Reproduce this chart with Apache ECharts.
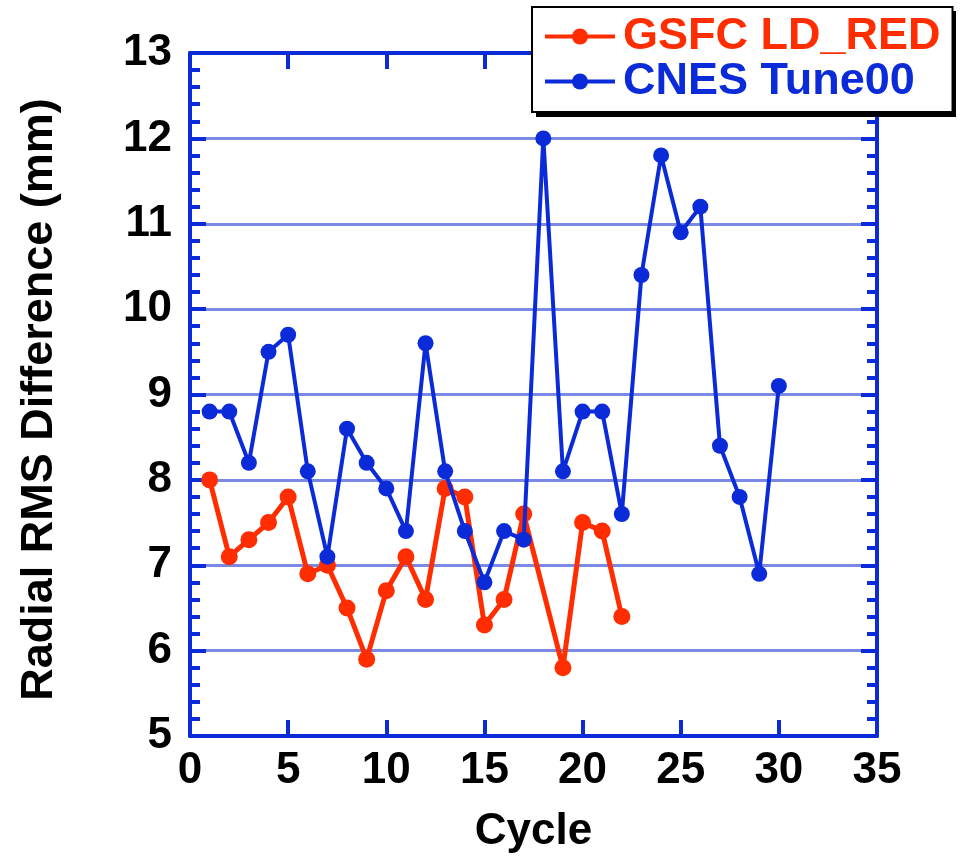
<!DOCTYPE html>
<html>
<head>
<meta charset="utf-8">
<script src="https://cdn.jsdelivr.net/npm/echarts@6/dist/echarts.min.js"></script>
<style>
  html, body { margin: 0; padding: 0; background: #ffffff; }
  #chart { width: 965px; height: 859px; }
</style>
</head>
<body>
<div id="chart"></div>
<script>
// Radial RMS difference per cycle for two orbit solutions
const cycles = [1, 2, 3, 4, 5, 6, 7, 8, 9, 10, 11, 12, 13, 14, 15,
                16, 17, 18, 19, 20, 21, 22, 23, 24, 25, 26, 27, 28, 29, 30];
// GSFC LD_RED has no value for cycle 18 and stops after cycle 22
const gsfcLdRed = [8.0, 7.1, 7.3, 7.5, 7.8, 6.9, 7.0, 6.5, 5.9, 6.7, 7.1, 6.6, 7.9, 7.8, 6.3,
                   6.6, 7.6, null, 5.8, 7.5, 7.4, 6.4];
const cnesTune00 = [8.8, 8.8, 8.2, 9.5, 9.7, 8.1, 7.1, 8.6, 8.2, 7.9, 7.4, 9.6, 8.1, 7.4, 6.8,
                    7.4, 7.3, 12.0, 8.1, 8.8, 8.8, 7.6, 10.4, 11.8, 10.9, 11.2, 8.4, 7.8, 6.9, 9.1];
const xTicks = { min: 0, max: 35, step: 5 };
const yTicks = { min: 5, max: 13, step: 1 };
const seriesNames = ['GSFC LD_RED', 'CNES Tune00'];

const RED = '#ff2d00';
const BLUE = '#0b2bd9';
const GRID_BLUE = '#7a89e6';
const FONT = '"Liberation Sans", Arial, Helvetica, sans-serif';

function pairs(values) {
  const out = [];
  values.forEach((v, i) => { if (v !== null) out.push([cycles[i], v]); });
  return out;
}

const axisLine = { show: true, onZero: false, lineStyle: { color: BLUE, width: 4 } };
const majorTick = { show: true, inside: true, length: 16, lineStyle: { color: BLUE, width: 4 } };
const minorTick = { show: true, splitNumber: 5, length: 10, lineStyle: { color: BLUE, width: 4 } };

// legend box geometry (drop shadow is drawn as a separate rect behind it)
const LEG = { left: 532, top: 7, width: 420, height: 106, shadow: 4 };

const chart = echarts.init(document.getElementById('chart'), null, { renderer: 'canvas' });
chart.setOption({
  animation: false,
  backgroundColor: '#ffffff',
  grid: { left: 190, right: 88, top: 53, bottom: 121, containLabel: false },
  graphic: [{
    type: 'rect', z: 3, silent: true,
    shape: { x: LEG.left + LEG.shadow, y: LEG.top + LEG.shadow, width: LEG.width, height: LEG.height },
    style: { fill: '#000000' }
  }],
  legend: {
    left: LEG.left, top: LEG.top,
    orient: 'vertical',
    padding: [7, 12, 8, 11],
    itemGap: 0,
    itemWidth: 70, itemHeight: 20,
    backgroundColor: '#ffffff',
    borderColor: '#000000', borderWidth: 2, borderRadius: 0,
    z: 5,
    lineStyle: { width: 4 },
    data: [
      { name: seriesNames[0], textStyle: { color: RED } },
      { name: seriesNames[1], textStyle: { color: BLUE } }
    ],
    textStyle: { fontFamily: FONT, fontWeight: 'bold', fontSize: 45, lineHeight: 45, padding: [0, 0, 0, 3] }
  },
  xAxis: [
    {
      type: 'value', position: 'bottom',
      min: xTicks.min, max: xTicks.max, interval: xTicks.step,
      name: 'Cycle', nameLocation: 'middle', nameGap: 74,
      nameTextStyle: { fontFamily: FONT, fontWeight: 'bold', fontSize: 44, color: '#000' },
      axisLine: axisLine,
      axisTick: majorTick,
      axisLabel: { fontFamily: FONT, fontWeight: 'bold', fontSize: 44, color: '#000', margin: 13 },
      splitLine: { show: false }
    },
    {
      type: 'value', position: 'top',
      min: xTicks.min, max: xTicks.max, interval: xTicks.step,
      axisLine: axisLine,
      axisTick: majorTick,
      axisLabel: { show: false },
      splitLine: { show: false }
    }
  ],
  yAxis: [
    {
      type: 'value', position: 'left',
      min: yTicks.min, max: yTicks.max, interval: yTicks.step,
      name: 'Radial RMS Difference (mm)', nameLocation: 'middle', nameGap: 128,
      nameRotate: 90,
      nameTextStyle: { fontFamily: FONT, fontWeight: 'bold', fontSize: 45, color: '#000', padding: [0, 10, 0, 0] },
      axisLine: axisLine,
      axisTick: majorTick,
      minorTick: minorTick,
      axisLabel: { fontFamily: FONT, fontWeight: 'bold', fontSize: 44, color: '#000', margin: 18,
                   padding: [0, 0, 16, 0] },
      splitLine: { show: true, lineStyle: { color: GRID_BLUE, width: 3 } }
    },
    {
      type: 'value', position: 'right',
      min: yTicks.min, max: yTicks.max, interval: yTicks.step,
      axisLine: axisLine,
      axisTick: majorTick,
      minorTick: minorTick,
      axisLabel: { show: false },
      splitLine: { show: false }
    }
  ],
  series: [
    {
      name: seriesNames[0], type: 'line',
      data: pairs(gsfcLdRed),
      color: RED,
      lineStyle: { color: RED, width: 5 },
      itemStyle: { color: RED },
      symbol: 'circle', symbolSize: 17,
      z: 3
    },
    {
      name: seriesNames[1], type: 'line',
      data: pairs(cnesTune00),
      color: BLUE,
      lineStyle: { color: BLUE, width: 4 },
      itemStyle: { color: BLUE },
      symbol: 'circle', symbolSize: 16,
      z: 4
    }
  ]
});
</script>
</body>
</html>
